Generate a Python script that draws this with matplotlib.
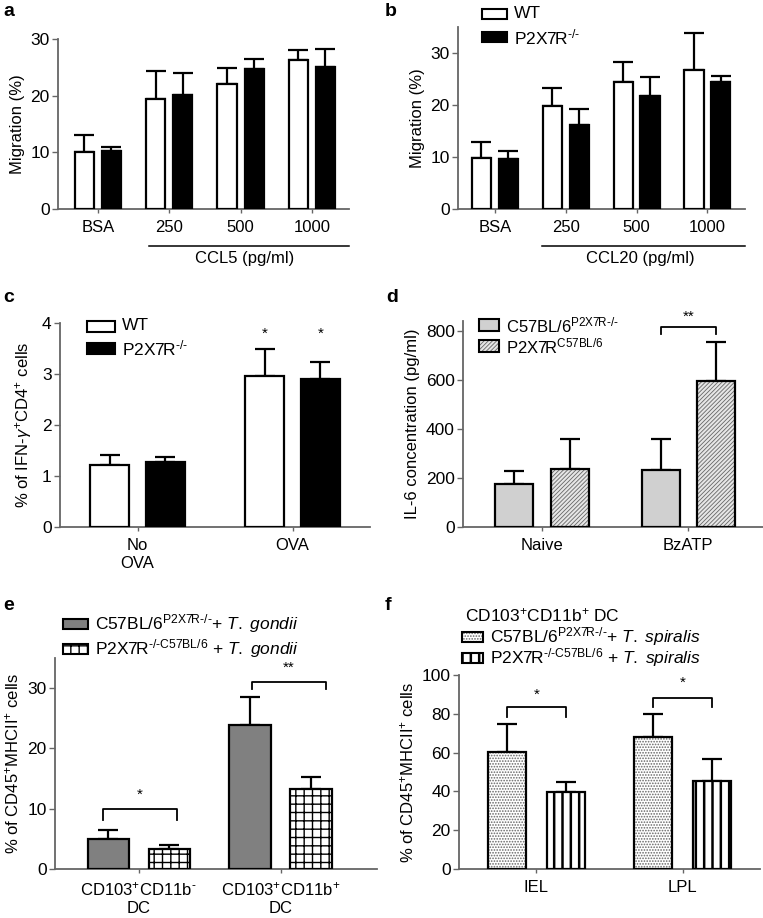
#!/usr/bin/env python3

"""
Six-panel bar figure (a-f): migration, IFN-g, IL-6 and DC frequencies.
"""

import numpy as np
import matplotlib
matplotlib.use("Agg")
import matplotlib.pyplot as plt
import matplotlib.transforms as mtransforms
from matplotlib.patches import Rectangle

plt.rcParams['font.family'] = ['Liberation Sans', 'DejaVu Sans']
plt.rcParams['mathtext.fontset'] = 'custom'
plt.rcParams['mathtext.rm'] = 'Liberation Sans'
plt.rcParams['mathtext.it'] = 'Liberation Sans:italic'
plt.rcParams['font.size'] = 12
plt.rcParams['hatch.linewidth'] = 1.0

W, H = 763, 918
HY = '\u2010'

# ---- data ----
a_groups = ["BSA", "250", "500", "1000"]
a_wt = [10.0, 19.5, 22.0, 26.3]
a_wt_err = [3.0, 4.8, 2.9, 1.8]
a_ko = [10.2, 20.2, 24.7, 25.1]
a_ko_err = [0.8, 3.8, 1.8, 3.1]

b_groups = ["BSA", "250", "500", "1000"]
b_wt = [9.9, 19.8, 24.4, 26.8]
b_wt_err = [2.9, 3.4, 3.9, 7.1]
b_ko = [9.7, 16.2, 21.7, 24.4]
b_ko_err = [1.5, 3.0, 3.6, 1.2]

c_groups = ["No\nOVA", "OVA"]
c_wt = [1.22, 2.97]
c_wt_err = [0.20, 0.53]
c_ko = [1.28, 2.90]
c_ko_err = [0.10, 0.33]

d_groups = ["Naive", "BzATP"]
d_c57 = [175, 233]
d_c57_err = [55, 125]
d_p2x = [237, 595]
d_p2x_err = [123, 160]

e_groups = ["CD103$^{+}$CD11b$^{\\mathregular{" + HY + "}}$\nDC", "CD103$^{+}$CD11b$^{+}$\nDC"]
e_c57 = [5.0, 23.9]
e_c57_err = [1.4, 4.6]
e_p2x = [3.3, 13.3]
e_p2x_err = [0.6, 2.0]

f_groups = ["IEL", "LPL"]
f_c57 = [60.5, 68.0]
f_c57_err = [14.0, 11.7]
f_p2x = [39.5, 45.5]
f_p2x_err = [5.5, 11.0]

KO = "P2X7R$^{\\mathregular{" + HY + "/" + HY + "}}$"
C57 = "C57BL/6$^{\\mathregular{P2X7R" + HY + "/" + HY + "}}$"
P2X = "P2X7R$^{\\mathregular{C57BL/6}}$"
P2X_KO = "P2X7R$^{\\mathregular{" + HY + "/" + HY + "C57BL/6}}$"

fig = plt.figure(figsize=(W / 100, H / 100), dpi=100)


def add_ax(x0, x1, y0, y1):
    """ Axes from pixel box (y measured from top). """
    ax = fig.add_axes([x0 / W, 1 - y1 / H, (x1 - x0) / W, (y1 - y0) / H])
    for s in ('top', 'right'):
        ax.spines[s].set_visible(False)
    for s in ('left', 'bottom'):
        ax.spines[s].set_color('#666666')
        ax.spines[s].set_linewidth(1.3)
    ax.tick_params(axis='y', length=4, width=1.0, color='#666666', pad=2, labelsize=12.5)
    ax.tick_params(axis='x', length=3, width=1.0, color='#666666', pad=5, labelsize=12)
    return ax


def set_hatch_lw(container, lw):
    for p in container:
        if hasattr(p, 'set_hatch_linewidth'):
            p.set_hatch_linewidth(lw)


def bars(ax, x, vals, errs, width, face, hatch=None, hcolor='black', hlw=1.0):
    if hatch:
        bc = ax.bar(x, vals, width, color=face, edgecolor=hcolor, hatch=hatch, linewidth=0, zorder=2)
        set_hatch_lw(bc, hlw)
        ax.bar(x, vals, width, color='none', edgecolor='black', linewidth=1.6, zorder=3)
    else:
        ax.bar(x, vals, width, color=face, edgecolor='black', linewidth=1.6, zorder=3)
    ax.errorbar(x, vals, yerr=[np.zeros(len(vals)), errs], fmt='none', ecolor='black',
                elinewidth=1.6, capsize=7, capthick=1.6, zorder=1)


def bracket(ax, x0, x1, ytop, ydrop, label, ystar):
    ax.plot([x0, x0, x1, x1], [ydrop, ytop, ytop, ydrop], color='black', lw=1.3, clip_on=False)
    ax.text((x0 + x1) / 2, ystar, label, ha='center', va='center', fontsize=11)


def panel_label(x, y, s):
    fig.text(x / W, 1 - y / H, s, fontsize=14, fontweight='bold', ha='left', va='center')


def legend_entry(x, yc, w, h, text, face, hatch=None, hcolor='black', hlw=1.0, size=12.5):
    """ Legend swatch + label placed in figure pixels. """
    if hatch:
        r = Rectangle((x / W, 1 - (yc + h / 2) / H), w / W, h / H, transform=fig.transFigure,
                      facecolor=face, edgecolor=hcolor, hatch=hatch, linewidth=0)
        if hasattr(r, 'set_hatch_linewidth'):
            r.set_hatch_linewidth(hlw)
        fig.add_artist(r)
    fig.add_artist(Rectangle((x / W, 1 - (yc + h / 2) / H), w / W, h / H, transform=fig.transFigure,
                             facecolor=face if not hatch else 'none', edgecolor='black', linewidth=1.5))
    fig.text((x + w + 7) / W, 1 - yc / H, text, ha='left', va='center', fontsize=size)


# ---- panel a ----
ax = add_ax(58, 349, 39, 209)
x = np.arange(len(a_groups))
bars(ax, x - 0.19, a_wt, a_wt_err, 0.27, 'white')
bars(ax, x + 0.19, a_ko, a_ko_err, 0.27, 'black')
ax.set_xlim(-0.56, 3.52)
ax.set_ylim(0, 30)
ax.set_yticks([0, 10, 20, 30])
ax.set_xticks(x, a_groups)
ax.set_ylabel('Migration (%)', labelpad=4)
trans = mtransforms.blended_transform_factory(ax.transData, ax.transAxes)
ax.plot([0.72, 3.52], [-0.218, -0.218], color='black', lw=1.1, transform=trans, clip_on=False)
ax.text(2.05, -0.29, 'CCL5 (pg/ml)', transform=trans, ha='center', va='center')
panel_label(3, 12, 'a')

# ---- panel b ----
ax = add_ax(458, 745, 27, 209)
x = np.arange(len(b_groups))
bars(ax, x - 0.19, b_wt, b_wt_err, 0.27, 'white')
bars(ax, x + 0.19, b_ko, b_ko_err, 0.27, 'black')
ax.set_xlim(-0.52, 3.53)
ax.set_ylim(0, 35)
ax.set_yticks([0, 10, 20, 30])
ax.set_xticks(x, b_groups)
ax.set_ylabel('Migration (%)', labelpad=4)
trans = mtransforms.blended_transform_factory(ax.transData, ax.transAxes)
ax.plot([0.66, 3.53], [-0.203, -0.203], color='black', lw=1.1, transform=trans, clip_on=False)
ax.text(2.05, -0.27, 'CCL20 (pg/ml)', transform=trans, ha='center', va='center')
legend_entry(482, 14, 25, 10, 'WT', 'white')
legend_entry(482, 37, 25, 10, KO, 'black')
panel_label(385, 12, 'b')

# ---- panel c ----
ax = add_ax(60, 370, 323, 527)
x = np.arange(len(c_groups))
bars(ax, x - 0.18, c_wt, c_wt_err, 0.25, 'white')
bars(ax, x + 0.18, c_ko, c_ko_err, 0.25, 'black')
ax.set_xlim(-0.5, 1.5)
ax.set_ylim(0, 4)
ax.set_yticks([0, 1, 2, 3, 4])
ax.set_xticks(x, c_groups)
ax.set_ylabel('% of IFN-$\\gamma^{+}$CD4$^{+}$ cells', labelpad=6)
ax.text(1 - 0.18, 3.78, '*', ha='center', va='center', fontsize=11)
ax.text(1 + 0.18, 3.78, '*', ha='center', va='center', fontsize=11)
legend_entry(87, 326, 28, 11, 'WT', 'white')
legend_entry(87, 348, 28, 11, KO, 'black')
panel_label(3, 297, 'c')

# ---- panel d ----
ax = add_ax(463, 763, 321, 527)
x = np.arange(len(d_groups))
bars(ax, x - 0.19, d_c57, d_c57_err, 0.26, '#d0d0d0')
bars(ax, x + 0.19, d_p2x, d_p2x_err, 0.26, '#e6e6e6', hatch='////////', hcolor='#666666', hlw=0.6)
ax.set_xlim(-0.54, 1.51)
ax.set_ylim(0, 840)
ax.set_yticks([0, 200, 400, 600, 800])
ax.set_xticks(x, d_groups)
ax.set_ylabel('IL-6 concentration (pg/ml)', labelpad=4)
bracket(ax, 1 - 0.19, 1 + 0.19, 815, 785, '**', 858)
legend_entry(479, 325, 20, 12, C57, '#d0d0d0', size=12)
legend_entry(479, 346, 20, 12, P2X, '#e6e6e6', hatch='////////', hcolor='#666666', hlw=0.6, size=12)
panel_label(386, 297, 'd')

# ---- panel e ----
ax = add_ax(55, 377, 658, 869)
x = np.arange(len(e_groups))
bars(ax, x - 0.215, e_c57, e_c57_err, 0.29, '#808080')
bars(ax, x + 0.215, e_p2x, e_p2x_err, 0.29, 'white', hatch='++', hlw=1.0)
ax.set_xlim(-0.59, 1.68)
ax.set_ylim(0, 35)
ax.set_yticks([0, 10, 20, 30])
ax.set_xticks(x, e_groups)
ax.set_ylabel('% of CD45$^{+}$MHCII$^{+}$ cells', labelpad=4)
bracket(ax, -0.25, 0.27, 10.0, 8.1, '*', 12.3)
bracket(ax, 0.8, 1.32, 31.0, 29.8, '**', 33.3)
legend_entry(63, 624, 25, 10, C57 + '+ $\\mathit{T.\\ gondii}$', '#808080')
legend_entry(63, 649, 25, 10, P2X_KO + ' + $\\mathit{T.\\ gondii}$', 'white', hatch='++')
panel_label(3, 605, 'e')

# ---- panel f ----
ax = add_ax(459, 760, 675, 869)
x = np.arange(len(f_groups))
bars(ax, x - 0.2, f_c57, f_c57_err, 0.26, 'white', hatch='......', hcolor='#666666', hlw=0.8)
bars(ax, x + 0.2, f_p2x, f_p2x_err, 0.26, 'white', hatch='||', hlw=1.8)
ax.set_xlim(-0.53, 1.53)
ax.set_ylim(0, 100)
ax.set_yticks([0, 20, 40, 60, 80, 100])
ax.set_xticks(x, f_groups)
ax.set_ylabel('% of CD45$^{+}$MHCII$^{+}$ cells', labelpad=4)
bracket(ax, -0.2, 0.2, 83.5, 78.4, '*', 90)
bracket(ax, 0.8, 1.2, 88.0, 83.5, '*', 96)
fig.text(465 / W, 1 - 615 / H, 'CD103$^{+}$CD11b$^{+}$ DC', ha='left', va='center', fontsize=12.5)
legend_entry(462, 637, 21, 10, C57 + '+ $\\mathit{T.\\ spiralis}$', 'white',
             hatch='......', hcolor='#666666', hlw=0.8)
legend_entry(462, 658, 21, 10, P2X_KO + ' + $\\mathit{T.\\ spiralis}$', 'white',
             hatch='||', hlw=1.8)
panel_label(385, 605, 'f')

fig.savefig('out.png', dpi=100)
plt.close(fig)
